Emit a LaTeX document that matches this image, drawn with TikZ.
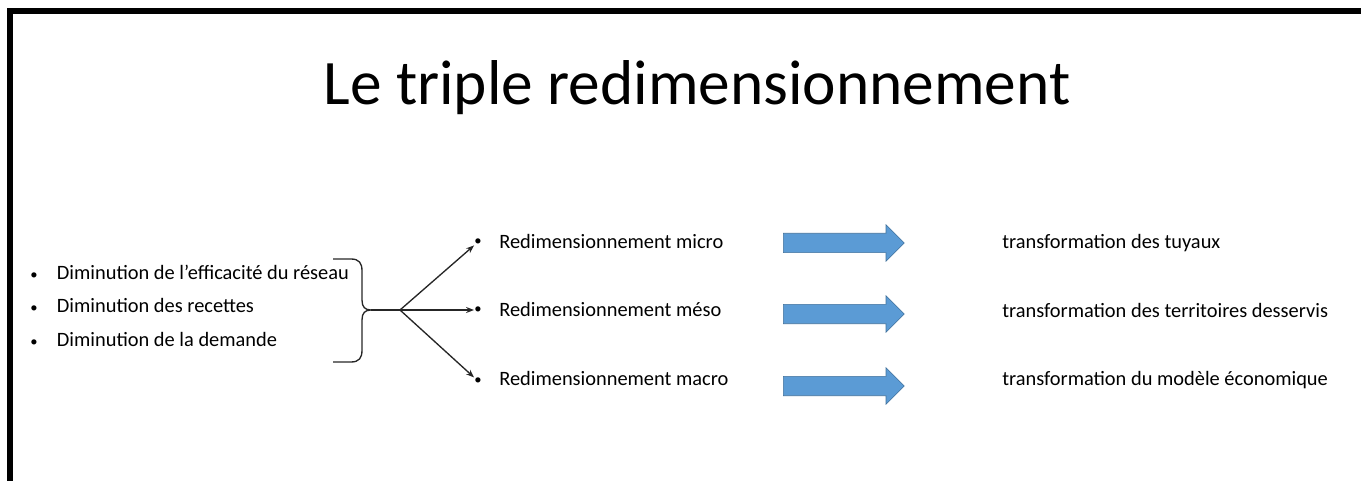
\documentclass[tikz,border=0pt]{standalone}
\usepackage{fontspec}
\setmainfont{Carlito}
\usetikzlibrary{arrows.meta,positioning,shapes.arrows,calc}
\definecolor{ppblue}{HTML}{5B9BD5}
\definecolor{ppblueedge}{HTML}{41719C}
\tikzset{
 titre/.style={font=\fontsize{47.5}{56}\selectfont, anchor=base, inner sep=0pt},
 listitem/.style={font=\fontsize{15.3}{18}\selectfont, anchor=base west, inner sep=0pt},
 puce/.style={font=\fontsize{11}{13}\selectfont, inner sep=0pt},
 farrow/.style={-{Stealth[length=6pt,width=4.5pt]}, line width=1pt, draw=black!85},
 bigarrow/.style={single arrow, fill=ppblue, draw=ppblueedge, line width=0.4pt,
 minimum width=27pt, minimum height=90.75pt, single arrow head extend=6.4pt,
 inner xsep=0pt, inner ysep=7.1pt, anchor=tail},
 brace/.style={line width=1pt, draw=black!85},
 cadre/.style={line width=4.5pt, line join=miter},
}
\newcommand{\puce}{\makebox[20pt][l]{\fontsize{11}{13}\selectfont\textbullet}}

\begin{document}
\begin{tikzpicture}[x=0.75pt, y=-0.75pt]
\useasboundingbox (0,0) rectangle (1361,481);

% frame of the slide
\draw[cadre] (10,481) -- (10,11.5) -- (1361,11.5);

% title
\node[titre] (titre) at (697,105) {Le triple redimensionnement};

% causes
\node[listitem] (efficacite) at (30,279) {\puce Diminution de l’efficacité du réseau};
\node[listitem] (recettes) at (30,312) {\puce Diminution des recettes};
\node[listitem] (demande) at (30,346) {\puce Diminution de la demande};

% brace
\draw[brace] (333,259) -- (351,259) .. controls (359,259) and (362,263) .. (362,271)
  -- (362,300) .. controls (362,307) and (365,310) .. (371,310) coordinate (pointe)
  .. controls (365,310) and (362,313) .. (362,320) -- (362,350)
  .. controls (362,358) and (359,362) .. (351,362) -- (333,362);
\coordinate (fourche) at (400,310);
\draw[brace] (pointe) -- (fourche);

% three scales
\node[puce] (pmicro) at (478,242) {\textbullet};
\node[puce] (pmeso)  at (478,310) {\textbullet};
\node[puce] (pmacro) at (478,381) {\textbullet};

\node[listitem] (micro) at (499,248) {Redimensionnement micro};
\node[listitem] (meso)  at (499,316) {Redimensionnement méso};
\node[listitem] (macro) at (499,385) {Redimensionnement macro};

\draw[farrow] (fourche) -- (pmicro);
\draw[farrow] (fourche) -- (pmeso);
\draw[farrow] (fourche) -- (pmacro);

% block arrows
\node[bigarrow] (fmicro) at (783,243) {};
\node[bigarrow] (fmeso)  at (783,314) {};
\node[bigarrow] (fmacro) at (783,386) {};

% transformations
\node[listitem] (tuyaux)      at (1002,248) {transformation des tuyaux};
\node[listitem] (territoires) at (1002,317) {transformation des territoires desservis};
\node[listitem] (modele)      at (1002,385) {transformation du modèle économique};

\end{tikzpicture}
\end{document}
